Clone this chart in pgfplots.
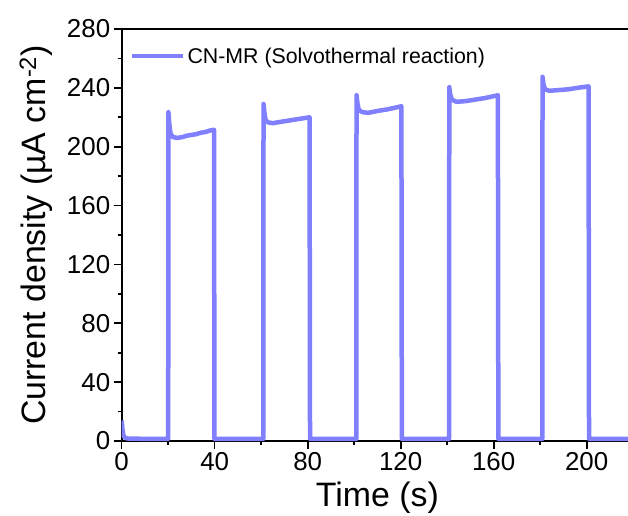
\documentclass[border=0pt]{standalone}
\usepackage{fontspec}
\setmainfont{Liberation Sans}
\usepackage{pgfplots}
\pgfplotsset{compat=1.18}
\definecolor{ser}{RGB}{128,128,255}
\begin{document}
\begin{tikzpicture}
\begin{axis}[
  at={(0,0)}, anchor=south west,
  scale only axis,
  width=511.5bp, height=412bp,
  xmin=0, xmax=220, ymin=0, ymax=280,
  xtick={0,40,...,200}, ytick={0,40,...,280},
  minor x tick num=1, minor y tick num=1,
  xtick pos=bottom, ytick pos=left,
  tick align=outside,
  major tick length=8bp, minor tick length=4bp,
  every tick/.style={black, line width=1.6bp},
  axis line style={black, line width=1.8bp},
  /pgf/number format/assume math mode=true,
  ticklabel style={font=\fontsize{26}{30}\selectfont},
  xlabel={Time (s)},
  ylabel={Current density (µA cm\textsuperscript{-2})},
  label style={font=\fontsize{34}{38}\selectfont},
  xlabel style={at={(axis description cs:0.5,-0.138)}, anchor=center},
  ylabel style={at={(axis description cs:-0.168,0.5)}, anchor=center},
  legend style={at={(axis description cs:0.016,0.934)}, anchor=west, draw=none, fill=none, inner sep=0pt, font=\fontsize{21.4}{24}\selectfont},
  legend cell align=left,
  legend image code/.code={\draw[#1] (0bp,0bp) -- (51bp,0bp);},
]
\addplot[ser, line width=4.5bp, line join=round] coordinates {
(0,14) (0.3,8) (0.8,3.5) (1.5,2) (3,1.6) (10,1.5) (19.9,1.5)
(20,1.5) (20.1,223.5) (20.5,215) (21,209) (22,206.5) (24,206) (26,206.5) (28,207.5) (30,208) (32,208.5) (34,209.5) (36,210) (38,211) (39.7,211.5) (39.9,1.5) (50,1.5) (60.9,1.5)
(61,229) (61.4,223) (61.9,218) (63,216.5) (65,216) (68,216.8) (72,217.8) (76,218.8) (80.8,220) (81,1.5) (90,1.5) (100.9,1.5)
(101,235) (101.4,229.5) (102,225) (103.5,223.5) (106,223) (110,224.3) (114,225.3) (117,226.3) (120.3,227.5) (120.5,1.5) (130,1.5) (140.8,1.5)
(140.9,240.5) (141.3,235.5) (142,232) (144,230.5) (148,231) (152,232) (156,233) (159,234) (161.8,235) (162,1.5) (170,1.5) (180.9,1.5)
(181,247.5) (181.4,242.5) (182.1,239) (184,238) (188,238.5) (192,239) (196,240) (200.8,241) (201,1.5) (210,1.5) (221,1.5)
};
\addlegendentry{CN-MR (Solvothermal reaction)}
\end{axis}
\draw[black, line width=1.8bp] (-0.9bp,412bp) -- (520bp,412bp);
\pgfresetboundingbox
\path (-121.7bp,-75bp) rectangle (506.3bp,441bp);
\end{tikzpicture}
\end{document}
